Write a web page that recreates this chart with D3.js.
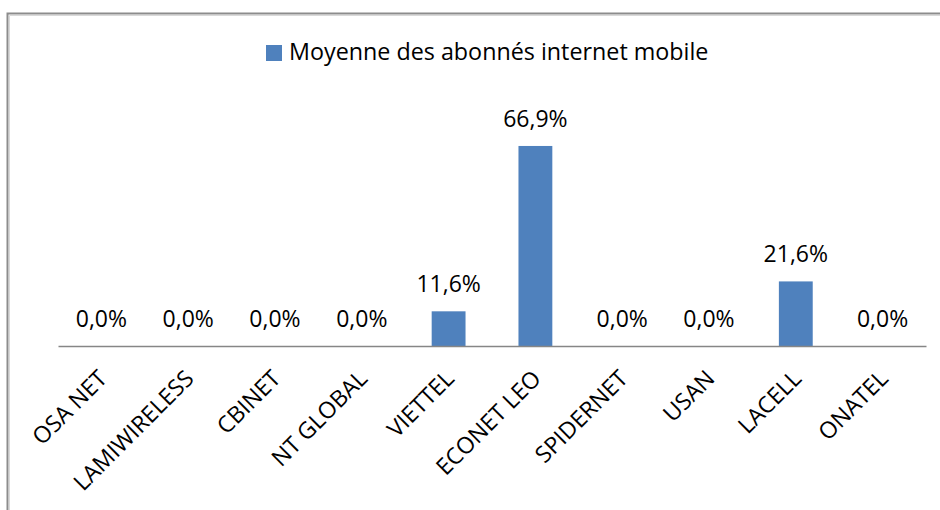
<!DOCTYPE html>
<html><head><meta charset="utf-8">
<script src="https://cdn.jsdelivr.net/npm/d3@7"></script>
<style>body{margin:0;background:#fff}svg{display:block}text{font-family:"Open Sans",sans-serif;fill:#000}</style>
</head><body><svg id="c" width="940" height="510"></svg>
<script>
const categories = ["OSA NET","LAMIWIRELESS","CBINET","NT GLOBAL","VIETTEL","ECONET LEO","SPIDERNET","USAN","LACELL","ONATEL"];
const values = [0.0, 0.0, 0.0, 0.0, 11.6, 66.9, 0.0, 0.0, 21.6, 0.0];
const seriesName = "Moyenne des abonnés internet mobile";
const color = "#4f81bd";

const svg = d3.select("#c");
// frame
svg.append("path").attr("d","M7.5,510 V13.5 H940").attr("fill","none").attr("stroke","#8c8c8c").attr("stroke-width",2);
svg.append("path").attr("d","M9.5,510 V15.5 H940").attr("fill","none").attr("stroke","#d9d9d9").attr("stroke-width",1);

const x = d3.scaleBand().domain(categories).range([58,926]).paddingInner(0.61).paddingOuter(0.305);
const y = d3.scaleLinear().domain([0,80]).range([346, 346-80*2.99]);

svg.selectAll("rect.bar").data(values).join("rect").attr("class","bar")
  .attr("x",(d,i)=>x(categories[i])).attr("width",x.bandwidth())
  .attr("y",d=>y(d)).attr("height",d=>y(0)-y(d)).attr("fill",color);

const ax = svg.append("g").attr("transform","translate(0,346)").call(d3.axisBottom(x).tickSize(0).tickSizeOuter(0));
ax.select(".domain").attr("stroke","#868686").attr("stroke-width",1.5);
ax.selectAll(".tick text").attr("font-family","Open Sans").attr("font-size",23).attr("fill","#000")
  .attr("text-anchor","end").attr("dy",0).attr("y",0)
  .attr("transform","translate(7,34) rotate(-45)");

svg.selectAll("text.lbl").data(values).join("text").attr("class","lbl")
  .attr("x",(d,i)=>x(categories[i])+x.bandwidth()/2).attr("y",d=>y(d)-19)
  .attr("text-anchor","middle").attr("font-size",23)
  .text(d=>d.toFixed(1).replace(".",",")+"%");

// legend
svg.append("rect").attr("x",266).attr("y",45).attr("width",16).attr("height",16).attr("fill",color);
svg.append("text").attr("x",289).attr("y",60).attr("font-size",23.3).text(seriesName);
</script></body></html>
